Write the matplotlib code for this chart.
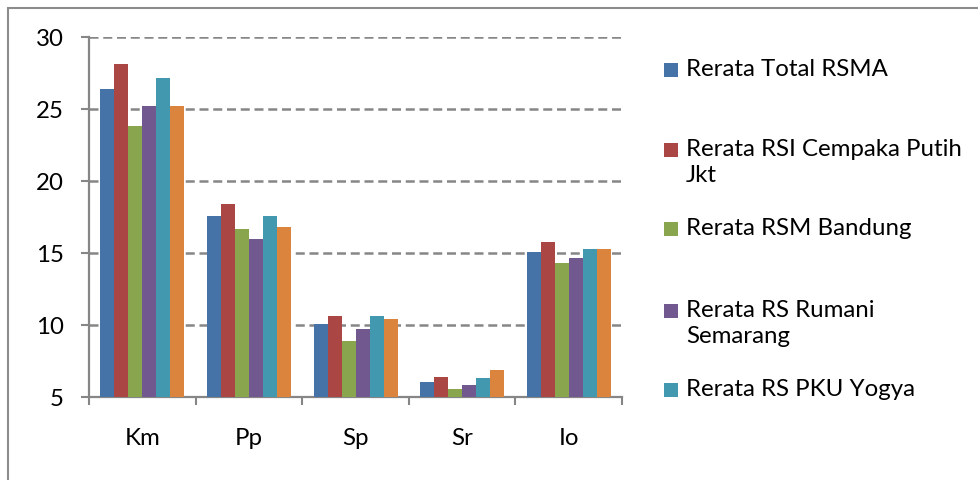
import matplotlib
matplotlib.use("Agg")
import matplotlib.pyplot as plt
from matplotlib.patches import Rectangle
import numpy as np

categories = ["Km", "Pp", "Sp", "Sr", "Io"]
series_names = ["Rerata Total RSMA", "Rerata RSI Cempaka Putih\nJkt", "Rerata RSM Bandung",
                "Rerata RS Rumani\nSemarang", "Rerata RS PKU Yogya", None]
total_rsma = [26.4, 17.55, 10.1, 6.05, 15.05]
rsi_cempaka = [28.1, 18.4, 10.65, 6.4, 15.75]
rsm_bandung = [23.8, 16.65, 8.9, 5.55, 14.3]
rs_rumani = [25.2, 16.0, 9.75, 5.85, 14.65]
rs_pku = [27.15, 17.55, 10.65, 6.35, 15.25]
series_6 = [25.2, 16.8, 10.45, 6.9, 15.25]
series = [total_rsma, rsi_cempaka, rsm_bandung, rs_rumani, rs_pku, series_6]
colors = ["#4572A7", "#AA4643", "#89A54E", "#71588F", "#4198AF", "#DB843D"]
yticks = [5, 10, 15, 20, 25, 30]

FONT = "Lato"
FS = 17.3
W, H = 979, 480
fig = plt.figure(figsize=(W / 100, H / 100), dpi=100)
fig.patches.append(Rectangle((8 / W, -0.1), 1.2, 1 - 8 / H + 0.1, transform=fig.transFigure,
                             fill=False, edgecolor="#8C8C8C", linewidth=1.5))

ax = fig.add_axes([89 / W, 1 - 397 / H, (622 - 89) / W, (397 - 37) / H])
n = len(series)
bw = 14 / ((622 - 89) / 5)
x = np.arange(len(categories))
for k, (vals, c) in enumerate(zip(series, colors)):
    ax.bar(x + (k - (n - 1) / 2) * bw, np.array(vals) - 5, bottom=5, width=bw, color=c,
           linewidth=0, zorder=3)

ax.set_xlim(-0.5, len(categories) - 0.5)
ax.set_ylim(5, 30)
ax.set_yticks(yticks)
ax.set_yticklabels([str(t) for t in yticks], fontsize=FS, family=FONT)
for t in yticks[1:]:
    ax.axhline(t, color="#868686", linewidth=1.8, linestyle=(0, (3.6, 1.9)), zorder=1)

ax.set_xticks(np.arange(-0.5, len(categories)), minor=False)
ax.set_xticklabels([])
ax.set_xticks(x, minor=True)
ax.set_xticklabels(categories, minor=True, fontsize=FS, family=FONT)
ax.tick_params(axis="x", which="minor", length=0, pad=22)
ax.tick_params(axis="x", which="major", length=6, width=1.5, color="#868686", direction="out")
ax.tick_params(axis="y", length=6, width=1.5, color="#868686", direction="out", pad=12)

for s in ["top", "right"]:
    ax.spines[s].set_visible(False)
for s in ["left", "bottom"]:
    ax.spines[s].set_color("#868686")
    ax.spines[s].set_linewidth(1.6)

# legend (manual layout to mimic the original)
legend_y = [70, 150, 229, 311, 390]
for name, c, yy in zip(series_names, colors, legend_y):
    if name is None:
        continue
    fig.patches.append(Rectangle((664 / W, 1 - (yy + 7) / H), 14 / W, 14 / H,
                                 transform=fig.transFigure, facecolor=c, edgecolor="none"))
    fig.text(686 / W, 1 - (yy - 11) / H, name, fontsize=FS, family=FONT, va="top", ha="left",
             linespacing=1.3)

fig.savefig("out.png", dpi=100)
